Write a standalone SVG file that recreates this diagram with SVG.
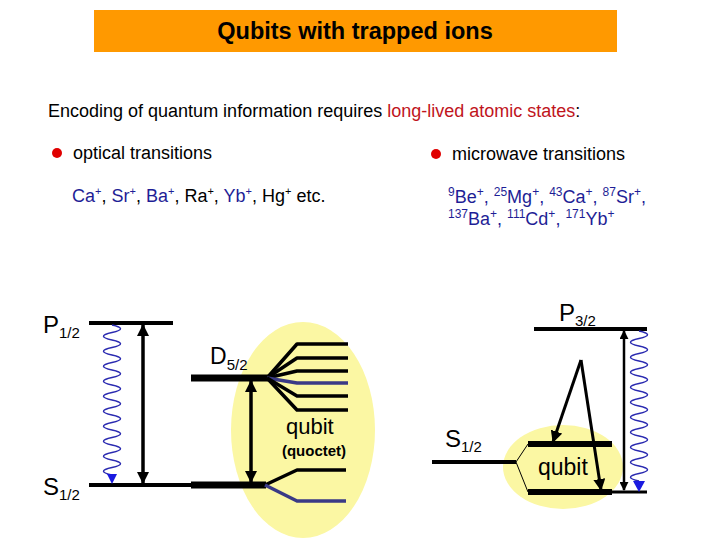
<svg xmlns="http://www.w3.org/2000/svg" width="720" height="540" viewBox="0 0 720 540">
<defs>
<style>
text{font-family:"Liberation Sans",Arial,sans-serif;fill:#000}
.navy{fill:#1e1e96}
.lvl{stroke:#000;fill:none}
.fan{stroke:#000;stroke-width:3.5;fill:none;stroke-linejoin:round}
.fanb{stroke:#3a3a86;stroke-width:3.5;fill:none;stroke-linejoin:round}
.wave{stroke:#2a2ab0;stroke-width:1.5;fill:none}
.arr{stroke:#000;fill:none}
</style>
<marker id="ah" viewBox="0 0 12 12" refX="11" refY="6" markerWidth="12" markerHeight="12" markerUnits="userSpaceOnUse" orient="auto-start-reverse">
<path d="M0,0 L12,6 L0,12 z" fill="#000"/>
</marker>
<marker id="ahs" viewBox="0 0 10 10" refX="9" refY="5" markerWidth="9" markerHeight="9" markerUnits="userSpaceOnUse" orient="auto-start-reverse">
<path d="M0,0 L10,5 L0,10 z" fill="#000"/>
</marker>
</defs>
<rect width="720" height="540" fill="#fff"/>

<g id="title">
<rect x="94" y="10" width="523" height="42" fill="#ff9900"/>
<text x="355" y="39" font-size="23.5" font-weight="bold" text-anchor="middle">Qubits with trapped ions</text>
</g>

<g id="intro">
<text x="48" y="117" font-size="18">Encoding of quantum information requires <tspan fill="#c0141c">long-lived atomic states</tspan>:</text>
<circle cx="57" cy="153" r="5" fill="#e00000"/>
<text x="73" y="159" font-size="18">optical transitions</text>
<circle cx="436" cy="154" r="5" fill="#e00000"/>
<text x="452" y="160" font-size="18">microwave transitions</text>
<text x="72" y="202" font-size="18"><tspan class="navy">Ca</tspan><tspan class="navy" font-size="11" dy="-7">+</tspan><tspan dy="7">, </tspan><tspan class="navy">Sr</tspan><tspan class="navy" font-size="11" dy="-7">+</tspan><tspan dy="7">, </tspan><tspan class="navy">Ba</tspan><tspan class="navy" font-size="11" dy="-7">+</tspan><tspan dy="7">, Ra</tspan><tspan font-size="11" dy="-7">+</tspan><tspan dy="7">, </tspan><tspan class="navy">Yb</tspan><tspan class="navy" font-size="11" dy="-7">+</tspan><tspan dy="7">, Hg</tspan><tspan font-size="11" dy="-7">+</tspan><tspan dy="7"> etc.</tspan></text>
<text x="448" y="203" font-size="18" class="navy"><tspan font-size="12" dy="-7">9</tspan><tspan dy="7">Be</tspan><tspan font-size="12" dy="-7">+</tspan><tspan dy="7">, </tspan><tspan font-size="12" dy="-7">25</tspan><tspan dy="7">Mg</tspan><tspan font-size="12" dy="-7">+</tspan><tspan dy="7">, </tspan><tspan font-size="12" dy="-7">43</tspan><tspan dy="7">Ca</tspan><tspan font-size="12" dy="-7">+</tspan><tspan dy="7">, </tspan><tspan font-size="12" dy="-7">87</tspan><tspan dy="7">Sr</tspan><tspan font-size="12" dy="-7">+</tspan><tspan dy="7">,</tspan></text>
<text x="448" y="225" font-size="18" class="navy"><tspan font-size="12" dy="-7">137</tspan><tspan dy="7">Ba</tspan><tspan font-size="12" dy="-7">+</tspan><tspan dy="7">, </tspan><tspan font-size="12" dy="-7">111</tspan><tspan dy="7">Cd</tspan><tspan font-size="12" dy="-7">+</tspan><tspan dy="7">, </tspan><tspan font-size="12" dy="-7">171</tspan><tspan dy="7">Yb</tspan><tspan font-size="12" dy="-7">+</tspan></text>
</g>

<g id="ellipses">
<ellipse cx="303" cy="430" rx="72" ry="108" fill="#fbf7a3"/>
<ellipse cx="563" cy="467" rx="60" ry="42" fill="#fbf7a3"/>
</g>

<g id="left-levels">
<line class="lvl" x1="89" y1="323" x2="173" y2="323" stroke-width="4"/>
<text x="43" y="333" font-size="24">P<tspan font-size="15" dy="5">1/2</tspan></text>
<line class="lvl" x1="89" y1="485" x2="191" y2="485" stroke-width="4"/>
<line class="lvl" x1="191" y1="485" x2="266" y2="485" stroke-width="7"/>
<text x="43" y="495" font-size="24">S<tspan font-size="15" dy="5">1/2</tspan></text>
<line class="lvl" x1="191" y1="378" x2="268" y2="378" stroke-width="7"/>
<text x="210" y="364" font-size="23">D<tspan font-size="15" dy="6">5/2</tspan></text>
</g>

<g id="d-sublevels">
<path class="fan" d="M267,378 L297,344 L348,344"/>
<path class="fan" d="M267,378 L297,358 L348,358"/>
<path class="fan" d="M267,378 L297,371 L348,371"/>
<path class="fanb" d="M267,378 L297,383 L348,383"/>
<path class="fan" d="M267,378 L297,396 L348,396"/>
<path class="fan" d="M267,378 L297,410 L348,410"/>
<path class="fan" d="M265,485 L297,470 L346,470"/>
<path class="fanb" d="M265,485 L297,501 L346,501"/>
<text x="286" y="434" font-size="22">qubit</text>
<text x="314" y="456" font-size="15" font-weight="bold" text-anchor="middle">(quoctet)</text>
</g>

<g id="right-levels">
<line class="lvl" x1="534" y1="329" x2="647" y2="329" stroke-width="4"/>
<text x="559" y="321" font-size="24">P<tspan font-size="15" dy="5">3/2</tspan></text>
<line class="lvl" x1="432" y1="462" x2="516" y2="462" stroke-width="4"/>
<text x="445" y="447" font-size="24">S<tspan font-size="15" dy="5">1/2</tspan></text>
<path class="lvl" d="M528,444 L516,462 L528,492" stroke-width="1"/>
<line class="lvl" x1="528" y1="444" x2="612" y2="444" stroke-width="6"/>
<line class="lvl" x1="528" y1="492" x2="612" y2="492" stroke-width="6"/>
<line class="lvl" x1="612" y1="492" x2="647" y2="492" stroke-width="3"/>
<text x="538" y="475" font-size="23">qubit</text>
</g>

<g id="connectors">
<line class="arr" x1="143" y1="325" x2="143" y2="483" stroke-width="3.5" marker-start="url(#ah)" marker-end="url(#ah)"/>
<line class="arr" x1="251" y1="381" x2="251" y2="482" stroke-width="3.5" marker-start="url(#ah)" marker-end="url(#ah)"/>
<path class="wave" d="M112,325 q17,3.75 0,7.5 t0,7.5 t0,7.5 t0,7.5 t0,7.5 t0,7.5 t0,7.5 t0,7.5 t0,7.5 t0,7.5 t0,7.5 t0,7.5 t0,7.5 t0,7.5 t0,7.5 t0,7.5 t0,7.5 t0,7.5 t0,7.5 t0,7.5"/>
<path d="M107,474 L117,474 L112,484 z" fill="#1a1ae0"/>
<line class="arr" x1="624" y1="331" x2="624" y2="490" stroke-width="2.5" marker-start="url(#ahs)" marker-end="url(#ahs)"/>
<path class="wave" d="M639,331 q17,3.75 0,7.5 t0,7.5 t0,7.5 t0,7.5 t0,7.5 t0,7.5 t0,7.5 t0,7.5 t0,7.5 t0,7.5 t0,7.5 t0,7.5 t0,7.5 t0,7.5 t0,7.5 t0,7.5 t0,7.5 t0,7.5 t0,7.5 t0,7.5"/>
<path d="M633,481 L645,481 L639,492 z" fill="#1a1ae0"/>
<line class="arr" x1="581" y1="360" x2="553" y2="442" stroke-width="3" marker-end="url(#ah)"/>
<line class="arr" x1="581" y1="360" x2="601" y2="490" stroke-width="3" marker-end="url(#ah)"/>
</g>
</svg>
